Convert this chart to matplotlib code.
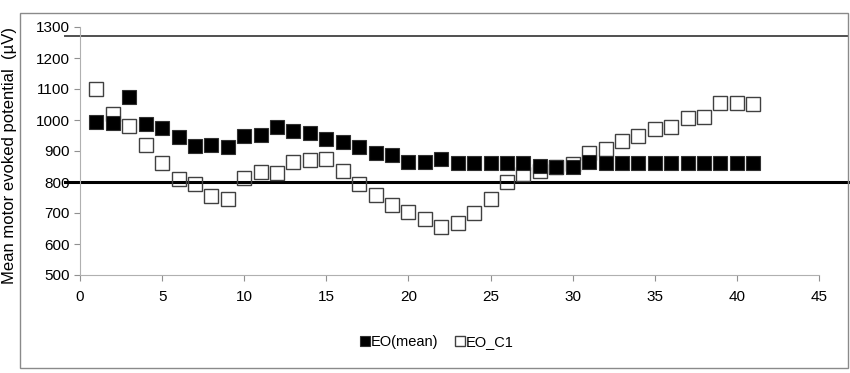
import matplotlib
matplotlib.use("Agg")
import matplotlib.pyplot as plt
import matplotlib.transforms as mtransforms
from matplotlib.patches import Rectangle

plt.rcParams['font.family'] = ['Liberation Sans', 'DejaVu Sans']

# session index 1..41
session = list(range(1, 42))

eo_mean = [994, 991, 1073, 986, 973, 944, 916, 919, 913, 948,
           952, 978, 965, 957, 938, 928, 914, 894, 887, 865,
           865, 873, 862, 862, 862, 860, 860, 853, 847, 849,
           865, 862, 860, 860, 862, 860, 862, 862, 862, 860,
           860]

eo_c1 = [1099, 1018, 981, 919, 862, 811, 793, 755, 746, 814,
         832, 830, 865, 871, 874, 836, 794, 757, 726, 704,
         680, 654, 667, 699, 745, 800, 826, 836, 848, 858,
         893, 906, 932, 949, 970, 978, 1007, 1011, 1056, 1056,
         1052]

upper_ref = 1270
lower_ref = 800

fig = plt.figure(figsize=(8.5, 3.73), dpi=100)
ax = fig.add_axes([80 / 850, 1 - 275 / 373, (819 - 80) / 850, (275 - 27) / 373])

# outer frame
fig.patches.append(Rectangle((20 / 850, 1 - 368 / 373), (848 - 20) / 850, (368 - 13) / 373,
                             transform=fig.transFigure, fill=False, edgecolor='#8a8a8a', lw=1.0))

ax.set_xlim(0, 45)
ax.set_ylim(500, 1300)

# reference lines run across the whole frame
trans = mtransforms.blended_transform_factory(fig.transFigure, ax.transData)
line_x = [65 / 850, 848 / 850]
ax.plot(line_x, [upper_ref, upper_ref], transform=trans, color='#505050', lw=1.4,
        clip_on=False, zorder=2)
ax.plot(line_x, [lower_ref, lower_ref], transform=trans, color='black', lw=2.2,
        clip_on=False, zorder=2)

ax.plot(session, eo_c1, ls='none', marker='s', ms=9.5, mfc='none', mec='#404040', mew=1.0,
        label='EO_C1', zorder=3)
ax.plot(session, eo_mean, ls='none', marker='s', ms=9.5, mfc='black', mec='#303030', mew=0.8,
        label='EO(mean)', zorder=4)

ax.set_xticks(range(0, 46, 5))
ax.set_yticks(range(500, 1301, 100))
for s in ['top', 'right']:
    ax.spines[s].set_visible(False)
for s in ['left', 'bottom']:
    ax.spines[s].set_color('#b0b0b0')
ax.tick_params(direction='out', length=4, color='#909090', labelsize=11)
ax.tick_params(axis='x', pad=7)

fig.text(10 / 850, 1 - 155 / 373, 'Mean motor evoked potential  (\u00b5V)', rotation=90,
         ha='center', va='center', fontsize=12)

h, l = ax.get_legend_handles_labels()
fig.legend(h[::-1], l[::-1], loc='center', bbox_to_anchor=(437 / 850, 1 - 342 / 373),
           ncol=2, frameon=False, fontsize=10.5, markerscale=0.7, handlelength=0.6,
           handletextpad=0.1, columnspacing=1.2)

fig.savefig('out.png', dpi=100)
